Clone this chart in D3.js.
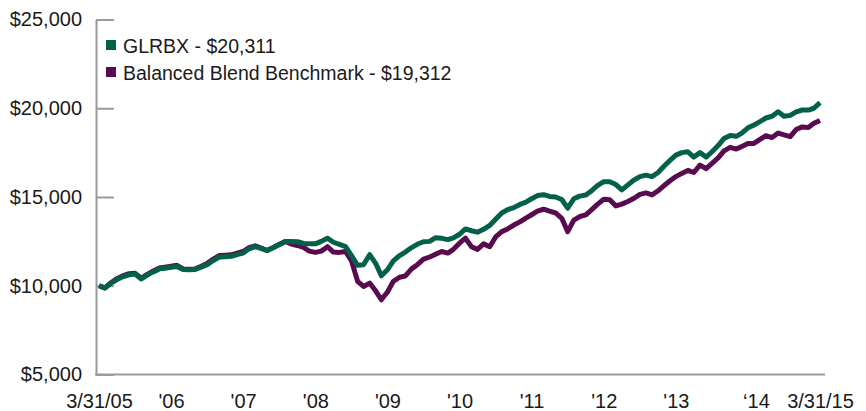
<!DOCTYPE html>
<html>
<head>
<meta charset="utf-8">
<script src="https://cdn.jsdelivr.net/npm/d3@7"></script>
<style>
  html, body { margin: 0; padding: 0; background: #fff; }
  svg { display: block; }
  text { font-family: "Liberation Sans", Arial, sans-serif; fill: #1a1a1a; }
</style>
</head>
<body>
<svg id="chart" width="866" height="411"></svg>
<script>
// ---- data (month-end values, 3/31/05 .. 3/31/15) ----
const seriesNames = ["GLRBX - $20,311", "Balanced Blend Benchmark - $19,312"];
const glrbx = [
  10000, 9870, 10150, 10350, 10520, 10620, 10660, 10380, 10600, 10780, 10950, 10990,
  11040, 11085, 10910, 10900, 10920, 11050, 11190, 11420, 11620, 11640, 11660, 11750,
  11840, 12080, 12200, 12100, 11985, 12150, 12320, 12490, 12490, 12480, 12380, 12360,
  12360, 12500, 12680, 12450, 12330, 12200, 11700, 11150, 11180, 11750, 11250, 10560,
  10900, 11400, 11700, 11900, 12150, 12350, 12480, 12500, 12710, 12670, 12600, 12700,
  12900, 13200, 13100, 13020, 13180, 13400, 13750, 14100, 14290, 14400, 14580, 14700,
  14900, 15080, 15130, 15030, 15000, 14860, 14370, 14900, 15050, 15115, 15370, 15650,
  15860, 15860, 15700, 15400, 15680, 15960, 16150, 16230, 16150, 16380, 16750, 17050,
  17360, 17500, 17545, 17250, 17500, 17250, 17550, 17900, 18300, 18460, 18420, 18600,
  18900, 19050, 19250, 19450, 19550, 19800, 19550, 19600, 19800, 19900, 19900, 20000,
  20311
];
const benchmark = [
  10000, 9880, 10170, 10400, 10570, 10680, 10700, 10420, 10640, 10830, 11000, 11050,
  11100, 11150, 10950, 10930, 10950, 11100, 11260, 11500, 11700, 11720, 11740, 11830,
  11930, 12150, 12250, 12120, 11985, 12150, 12320, 12490, 12350, 12270, 12160, 11950,
  11880, 11950, 12200, 11900, 11880, 11930, 11400, 10250, 9960, 10150, 9700, 9210,
  9650, 10250, 10480, 10550, 10950, 11200, 11500, 11620, 11780, 11930, 11840, 12050,
  12400, 12680, 12200, 12050, 12360, 12200, 12750, 13050, 13200, 13420, 13600, 13800,
  14000, 14200, 14310, 14200, 14100, 13800, 13050, 13700, 13900, 13990, 14300, 14600,
  14870, 14840, 14500, 14600, 14750, 14930, 15150, 15230, 15120, 15350, 15650, 15900,
  16150, 16330, 16500, 16380, 16800, 16600, 16900, 17200, 17600, 17800, 17700, 17850,
  18020, 18020, 18250, 18450, 18350, 18600, 18500, 18400, 18800, 18950, 18920, 19150,
  19312
];
const yTickValues = [5000, 10000, 15000, 20000, 25000];
const xTickLabels = ["3/31/05", "'06", "'07", "'08", "'09", "'10", "'11", "'12", "'13", "\u201814", "3/31/15"];
const colors = ["#03614a", "#5a0b4f"];

// ---- build ----
const startDate = new Date(2005, 2, 31);
const endDate = new Date(2015, 2, 31);
const monthEnd = i => new Date(2005, 3 + i, 0); // end of month i after March 2005
const xTickDates = xTickLabels.map((_, k) => new Date(2005 + k, 2, 31));

const svg = d3.select("#chart");
const x = d3.scaleTime().domain([startDate, endDate]).range([99, 820]);
const y = d3.scaleLinear().domain([5000, 25000]).range([374.5, 19.5]);

// y axis
const yAxis = d3.axisLeft(y)
  .tickValues(yTickValues)
  .tickFormat(d => "$" + d3.format(",")(d))
  .tickSizeInner(-18)
  .tickSizeOuter(0)
  .tickPadding(14);
const gy = svg.append("g").attr("transform", "translate(96,0)").call(yAxis);
gy.select(".domain").attr("stroke", "#9a9a9a").attr("stroke-width", 2);
gy.selectAll(".tick line").attr("stroke", "#9a9a9a").attr("stroke-width", 2);
gy.selectAll(".tick text").attr("font-size", 20).attr("font-family", "Liberation Sans, Arial, sans-serif").attr("fill", "#1a1a1a");

// x axis
const xAxis = d3.axisBottom(x)
  .tickValues(xTickDates)
  .tickFormat((d, i) => xTickLabels[i])
  .tickSize(0)
  .tickPadding(19);
const gx = svg.append("g").attr("transform", "translate(0,374.5)").call(xAxis);
gx.select(".domain").remove();
gx.append("line").attr("x1", 95).attr("x2", 825).attr("y1", 0).attr("y2", 0)
  .attr("stroke", "#9a9a9a").attr("stroke-width", 2);
gx.selectAll(".tick text").attr("font-size", 20).attr("font-family", "Liberation Sans, Arial, sans-serif").attr("fill", "#1a1a1a")
  .attr("dx", (d, i) => i === 9 ? 8 : 0);

// lines
const line = d3.line().x((d, i) => x(monthEnd(i))).y(d => y(d)).curve(d3.curveLinear);
[benchmark, glrbx].forEach((s, k) => {
  svg.append("path")
    .datum(s)
    .attr("fill", "none")
    .attr("stroke", k === 0 ? colors[1] : colors[0])
    .attr("stroke-width", 5)
    .attr("stroke-linejoin", "round")
    .attr("stroke-linecap", "butt")
    .attr("d", line);
});

// legend
const legend = svg.append("g").attr("transform", "translate(106,0)");
seriesNames.forEach((name, k) => {
  const cy = 45 + k * 27;
  legend.append("rect").attr("x", 0).attr("y", cy - 5).attr("width", 10).attr("height", 10).attr("fill", colors[k]);
  legend.append("text").attr("x", 17).attr("y", cy + 7.5).attr("font-size", 19.5).text(name);
});
</script>
</body>
</html>
